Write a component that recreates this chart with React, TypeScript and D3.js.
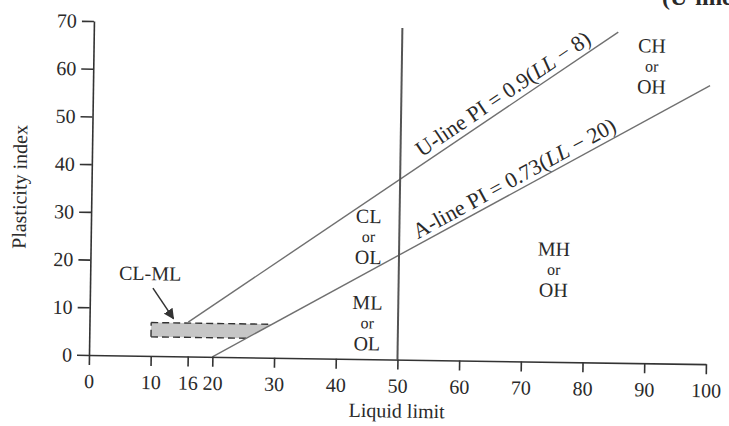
import React, { useEffect, useRef } from 'react';
import * as d3 from 'd3';

// axis ticks
const xTicks = [0, 10, 16, 20, 30, 40, 50, 60, 70, 80, 90, 100];
const yTicks = [0, 10, 20, 30, 40, 50, 60, 70];

// line end points (LL, PI)
const uLine = [{ ll: 16, pi: 7.2 }, { ll: 85, pi: 69.3 }];
const aLine = [{ ll: 20, pi: 0 }, { ll: 100, pi: 58.4 }];
const divider = [{ ll: 50, pi: 0 }, { ll: 50, pi: 69.5 }];

// CL-ML band, right edge runs along the A-line
const clmlBand = [{ ll: 10, pi: 4 }, { ll: 25.5, pi: 4 }, { ll: 29.6, pi: 7 }, { ll: 10, pi: 7 }];
const clmlArrow = [{ ll: 10.2, pi: 14.2 }, { ll: 13.6, pi: 7.9 }];

// zone names, centre of first row
const zoneText = [['CH', 'or', 'OH'], ['CL', 'or', 'OL'], ['ML', 'or', 'OL'], ['MH', 'or', 'OH']];
const zoneLL = [90.5, 45, 45, 75.1];
const zonePI = [66.6, 30, 11.9, 23.7];

const W = 729;
const H = 426;
const skew = 0.85; // the scan is turned a little

const App = () => {
  const ref = useRef(null);

  useEffect(() => {
    const svg = d3.select(ref.current);
    svg.selectAll('*').remove();

    const x = d3.scaleLinear().domain([0, 100]).range([89, 706]);
    const y = d3.scaleLinear().domain([0, 70]).range([355, 21]);

    const g = svg.append('g').attr('transform', `rotate(${skew},${x(0)},${y(0)})`);
    const serif = "'Liberation Serif', 'DejaVu Serif', serif";
    const ink = '#2a2a2a';

    // band
    g.append('path')
      .attr('d', d3.line().x(d => x(d.ll)).y(d => y(d.pi)).curve(d3.curveLinearClosed)(clmlBand))
      .attr('fill', '#c6c6c6')
      .attr('stroke', 'none');
    const dash = (a, b) => g.append('line')
      .attr('x1', x(a.ll)).attr('y1', y(a.pi)).attr('x2', x(b.ll)).attr('y2', y(b.pi))
      .attr('stroke', '#333').attr('stroke-width', 1.4).attr('stroke-dasharray', '7,4');
    dash(clmlBand[0], clmlBand[1]);
    dash(clmlBand[3], clmlBand[2]);
    dash(clmlBand[0], clmlBand[3]);

    const line = d3.line().x(d => x(d.ll)).y(d => y(d.pi));
    g.append('path').attr('d', line(uLine)).attr('stroke', '#707070').attr('stroke-width', 1.4).attr('fill', 'none');
    g.append('path').attr('d', line(aLine)).attr('stroke', '#707070').attr('stroke-width', 1.4).attr('fill', 'none');
    g.append('path').attr('d', line(divider)).attr('stroke', '#555').attr('stroke-width', 2).attr('fill', 'none');

    // axes
    const xAxis = g.append('g')
      .attr('transform', `translate(0,${y(0)})`)
      .call(d3.axisBottom(x).tickValues(xTicks).tickSize(10).tickSizeOuter(0).tickPadding(9));
    const yAxis = g.append('g')
      .attr('transform', `translate(${x(0)},0)`)
      .call(d3.axisLeft(y).tickValues(yTicks).tickSize(12).tickSizeOuter(0).tickPadding(5));
    [xAxis, yAxis].forEach(a => {
      a.select('.domain').attr('stroke', '#333').attr('stroke-width', 1.6);
      a.selectAll('.tick line').attr('stroke', '#333').attr('stroke-width', 1.6);
      a.selectAll('.tick text').attr('fill', ink).style('font-family', serif).style('font-size', '20px');
    });

    g.append('text')
      .attr('x', (x(0) + x(100)) / 2).attr('y', 413)
      .attr('text-anchor', 'middle').attr('fill', ink)
      .style('font-family', serif).style('font-size', '20px')
      .text('Liquid limit');
    g.append('text')
      .attr('transform', `translate(24,${(y(0) + y(70)) / 2})rotate(-90)`)
      .attr('text-anchor', 'middle').attr('fill', ink)
      .style('font-family', serif).style('font-size', '20px')
      .text('Plasticity index');

    // labels along the lines
    const along = (pts, startLL, off, parts) => {
      const p0 = pts[0], p1 = pts[1];
      const ang = Math.atan2(y(p1.pi) - y(p0.pi), x(p1.ll) - x(p0.ll));
      const t = (startLL - p0.ll) / (p1.ll - p0.ll);
      const px = x(p0.ll) + t * (x(p1.ll) - x(p0.ll)) + off * Math.sin(ang);
      const py = y(p0.pi) + t * (y(p1.pi) - y(p0.pi)) - off * Math.cos(ang);
      const txt = g.append('text')
        .attr('transform', `translate(${px},${py})rotate(${ang * 180 / Math.PI})`)
        .attr('fill', ink).style('font-family', serif).style('font-size', '22px');
      parts.forEach(([s, it]) => txt.append('tspan').style('font-style', it ? 'italic' : 'normal').text(s));
    };
    along(uLine, 54, 6, [['U-line PI = 0.9('], ['LL', true], [' \u2212 8)']]);
    along(aLine, 53.4, 5, [['A-line PI = 0.73('], ['LL', true], [' \u2212 20)']]);

    // zone names
    zoneText.forEach((rows, i) => {
      rows.forEach((r, k) => {
        g.append('text')
          .attr('x', x(zoneLL[i])).attr('y', y(zonePI[i]) + k * 20.5)
          .attr('dy', '0.35em').attr('text-anchor', 'middle').attr('fill', ink)
          .style('font-family', serif).style('font-size', r === 'or' ? '16px' : '20px')
          .text(r);
      });
    });

    // CL-ML label + arrow
    g.append('text')
      .attr('x', x(clmlArrow[0].ll) - 3).attr('y', y(clmlArrow[0].pi) - 15)
      .attr('dy', '0.35em').attr('text-anchor', 'middle').attr('fill', ink)
      .style('font-family', serif).style('font-size', '20px')
      .text('CL-ML');
    svg.append('defs').append('marker')
      .attr('id', 'head').attr('viewBox', '0 0 10 10').attr('refX', 9).attr('refY', 5)
      .attr('markerWidth', 7).attr('markerHeight', 7).attr('orient', 'auto')
      .append('path').attr('d', 'M0,0L10,5L0,10z').attr('fill', '#333');
    g.append('line')
      .attr('x1', x(clmlArrow[0].ll)).attr('y1', y(clmlArrow[0].pi))
      .attr('x2', x(clmlArrow[1].ll)).attr('y2', y(clmlArrow[1].pi))
      .attr('stroke', '#333').attr('stroke-width', 1.5).attr('marker-end', 'url(#head)');

    // clipped heading at the top edge
    svg.append('text')
      .attr('x', 662).attr('y', 5).attr('fill', ink)
      .style('font-family', serif).style('font-size', '24px').style('font-weight', 'bold')
      .text('(U-line)');
  }, []);

  return (
    <>
      <style>{'body{margin:0}'}</style>
      <svg ref={ref} width={W} height={H} style={{ display: 'block', background: '#fff' }}></svg>
    </>
  );
};

export default App;
